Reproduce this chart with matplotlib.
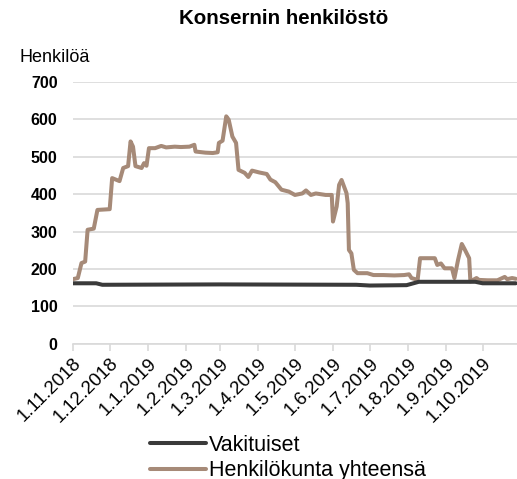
import matplotlib
matplotlib.use("Agg")
import matplotlib.pyplot as plt
import numpy as np

plt.rcParams['font.family'] = ['Liberation Sans', 'DejaVu Sans']

total_dates = ["2018-11-01","2018-11-05","2018-11-08","2018-11-11","2018-11-13","2018-11-18","2018-11-21",
    "2018-12-01","2018-12-03","2018-12-09","2018-12-12","2018-12-16","2018-12-18","2018-12-20","2018-12-22",
    "2018-12-27","2018-12-29","2018-12-31","2019-01-02","2019-01-07","2019-01-12","2019-01-16","2019-01-23",
    "2019-01-28","2019-02-04","2019-02-08","2019-02-09","2019-02-17","2019-02-23","2019-02-27","2019-02-28",
    "2019-03-03","2019-03-06","2019-03-08","2019-03-11","2019-03-14","2019-03-16","2019-03-21","2019-03-24",
    "2019-03-27","2019-04-02","2019-04-08","2019-04-11","2019-04-15","2019-04-20","2019-04-26","2019-05-01",
    "2019-05-07","2019-05-10","2019-05-14","2019-05-18","2019-05-26","2019-05-31","2019-06-01","2019-06-04",
    "2019-06-06","2019-06-08","2019-06-12","2019-06-13","2019-06-14","2019-06-16","2019-06-18","2019-06-21",
    "2019-06-29","2019-07-04","2019-07-12","2019-07-21","2019-07-29","2019-08-02","2019-08-04","2019-08-09",
    "2019-08-11","2019-08-23","2019-08-25","2019-08-28","2019-08-31","2019-09-06","2019-09-08","2019-09-11",
    "2019-09-14","2019-09-16","2019-09-20","2019-09-21","2019-09-26","2019-09-28","2019-10-05","2019-10-13",
    "2019-10-19","2019-10-21","2019-10-25","2019-10-28"]
total_values = [173,176,216,220,305,308,358,
    360,443,435,470,475,541,527,475,
    470,483,476,523,523,529,525,527,
    526,527,532,514,511,510,512,537,
    543,608,599,554,537,465,457,446,
    463,458,454,439,432,412,407,398,
    402,410,398,402,398,398,327,367,
    425,438,403,376,251,242,198,189,
    189,184,184,183,184,186,176,171,
    229,229,211,215,202,202,176,225,
    267,255,229,167,176,171,170,170,
    179,173,176,174]

perm_dates = ["2018-11-01","2018-11-20","2018-11-25","2019-03-01","2019-06-20","2019-07-01","2019-07-31",
    "2019-08-10","2019-09-25","2019-10-01","2019-10-28"]
perm_values = [162,162,158,159,158,156,157,166,166,162,162]

tick_dates = ["2018-11-01","2018-12-01","2019-01-01","2019-02-01","2019-03-01","2019-04-01","2019-05-01",
    "2019-06-01","2019-07-01","2019-08-01","2019-09-01","2019-10-01"]
tick_labels = ["1.11.2018","1.12.2018","1.1.2019","1.2.2019","1.3.2019","1.4.2019","1.5.2019",
    "1.6.2019","1.7.2019","1.8.2019","1.9.2019","1.10.2019"]

td = np.array(total_dates, dtype='datetime64[D]')
pd_ = np.array(perm_dates, dtype='datetime64[D]')
tk = np.array(tick_dates, dtype='datetime64[D]')

fig = plt.figure(figsize=(5.17, 4.79), dpi=100)
ax = fig.add_axes([0.141, 0.282, 0.859, 0.547])

l1, = ax.plot(pd_, perm_values, color='#3a3a3a', lw=2.9, solid_capstyle='round', solid_joinstyle='round', zorder=3)
l2, = ax.plot(td, total_values, color='#a68a78', lw=2.9, solid_capstyle='round', solid_joinstyle='round', zorder=2)

ax.set_ylim(0, 700)
ax.set_xlim(np.datetime64('2018-11-01'), np.datetime64('2019-10-29'))
ax.set_yticks(range(0, 701, 100))
ax.set_yticklabels([str(v) for v in range(0, 701, 100)], fontweight='bold', fontsize=11.5)
ax.yaxis.grid(True, color='#d9d9d9', lw=1.2)
ax.set_axisbelow(True)
ax.tick_params(axis='y', length=0, pad=11)
ax.set_xticks(tk)
ax.set_xticklabels(tick_labels, rotation=45, ha='right', rotation_mode='anchor', fontsize=13.5)
ax.tick_params(axis='x', length=5, color='#d9d9d9', width=1.2, pad=3)
for s in ['top', 'right', 'left']:
    ax.spines[s].set_visible(False)
ax.spines['bottom'].set_color('#d9d9d9')
ax.spines['bottom'].set_linewidth(1.2)

fig.text(0.548, 0.962, 'Konsernin henkilöstö', ha='center', va='center', fontsize=14.8, fontweight='bold')
fig.text(0.037, 0.881, 'Henkilöä', ha='left', va='center', fontsize=13)

fig.legend([l1, l2], ['Vakituiset', 'Henkilökunta yhteensä'], loc='center left',
           bbox_to_anchor=(0.291, 0.044), frameon=False, fontsize=15.5, handlelength=2.6,
           handletextpad=0.1, labelspacing=0.22, borderaxespad=0, borderpad=0)

fig.savefig('out.png', dpi=100)
